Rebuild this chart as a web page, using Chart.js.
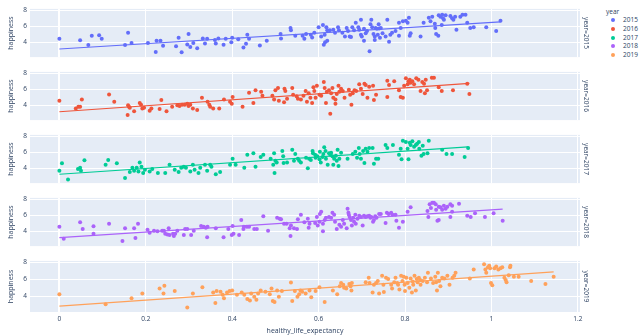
<!DOCTYPE html>
<html>
<head>
<meta charset="utf-8">
<script src="https://cdn.jsdelivr.net/npm/chart.js@4.4.1/dist/chart.umd.min.js"></script>
<style>
  html, body { margin: 0; padding: 0; background: #fff; }
  body { width: 640px; height: 335px; position: relative; overflow: hidden; font-family: "Open Sans", verdana, arial, sans-serif; color: #2a3f5f; }
  canvas { position: absolute; left: 0; }
  .lg { position: absolute; font-size: 6.5px; line-height: 8px; white-space: nowrap; }
  .dot { position: absolute; width: 4px; height: 4px; border-radius: 50%; }
</style>
</head>
<body>
<div id="legend"></div>
<script>
  // facets / legend
  const years = ['2015', '2016', '2017', '2018', '2019']
  const colors = ['#636efa', '#EF553B', '#00cc96', '#ab63fa', '#FFA15A']
  const xTicks = [0, 0.2, 0.4, 0.6, 0.8, 1, 1.2]
  const yTicks = [4, 6, 8]

  // [healthy_life_expectancy, happiness]
  const points2015 = [
    [0, 4.45], [0.048, 4.26], [0.067, 3.68], [0.075, 4.83], [0.092, 4.9], [0.098, 4.45], [0.152, 3.68], [0.159, 5.2],
    [0.167, 3.92], [0.205, 3.92], [0.223, 2.79], [0.225, 4.19], [0.234, 4.19], [0.24, 3.58], [0.27, 3.51], [0.276, 4.57],
    [0.283, 2.77], [0.296, 3.74], [0.299, 5.06], [0.303, 3.43], [0.31, 3.92], [0.319, 3.25], [0.332, 4.49], [0.337, 3.85],
    [0.342, 4.45], [0.36, 4.3], [0.362, 3.85], [0.368, 4.49], [0.38, 3.7], [0.385, 4.45], [0.398, 4.0], [0.4, 4.57],
    [0.414, 4.38], [0.426, 3.36], [0.432, 3.81], [0.435, 4.94], [0.439, 4.45], [0.464, 3.62], [0.48, 4.19], [0.512, 5.06],
    [0.513, 4.49], [0.535, 5.81], [0.536, 5.51], [0.546, 4.83],
    [0.563, 4.83], [0.571, 5.06], [0.567, 4.45], [0.582, 4.94], [0.6, 5.89], [0.606, 4.75], [0.61, 6.19], [0.614, 4.94],
    [0.618, 5.89], [0.62, 5.51], [0.615, 4.0], [0.62, 4.19], [0.626, 5.51], [0.634, 5.58], [0.638, 5.2], [0.645, 5.89],
    [0.647, 5.51], [0.655, 5.2], [0.661, 4.75], [0.665, 5.81], [0.668, 5.43], [0.672, 4.75], [0.675, 4.68], [0.678, 5.89],
    [0.682, 5.51], [0.686, 6.45], [0.692, 5.89], [0.694, 5.58], [0.698, 6.83], [0.698, 4.94], [0.7, 4.75], [0.705, 5.7],
    [0.709, 5.13], [0.712, 5.43], [0.72, 6.26], [0.722, 6.83], [0.724, 5.89], [0.727, 5.06], [0.73, 4.75], [0.732, 5.81],
    [0.735, 5.7], [0.737, 4.94], [0.739, 6.26], [0.742, 4.57], [0.74, 5.74], [0.744, 5.81], [0.748, 5.13], [0.718, 2.87],
    [0.705, 4.19], [0.73, 4.3], [0.755, 4.75], [0.759, 6.83], [0.763, 4.08], [0.766, 4.94], [0.77, 5.2], [0.778, 5.43],
    [0.786, 6.45], [0.786, 4.83], [0.79, 5.81], [0.795, 6.64], [0.802, 6.72], [0.806, 6.45], [0.809, 7.09], [0.811, 4.83],
    [0.813, 5.13], [0.836, 4.75], [0.843, 6.45], [0.855, 7.09], [0.859, 6.64], [0.863, 7.21], [0.869, 6.34], [0.87, 5.81],
    [0.872, 5.06], [0.877, 4.83], [0.878, 7.4], [0.882, 7.21], [0.886, 7.47], [0.888, 7.02], [0.89, 6.83], [0.894, 7.4],
    [0.885, 6.19], [0.905, 7.32], [0.909, 7.02], [0.912, 6.83], [0.916, 7.21], [0.919, 5.58], [0.928, 7.21], [0.933, 7.47],
    [0.94, 7.47], [0.944, 6.45], [0.951, 5.81], [0.959, 5.89], [0.988, 5.89], [1.011, 5.43], [1.021, 6.72], [0.612, 3.7],
    [0.59, 5.2], [0.585, 4.6]
  ]
  const points2016 = [
    [0, 4.57], [0.038, 3.62], [0.044, 3.81], [0.048, 3.81], [0.052, 4.75], [0.115, 5.36], [0.127, 4.45], [0.158, 2.79],
    [0.159, 4.0], [0.161, 3.81], [0.163, 3.7], [0.173, 3.25], [0.186, 4.3], [0.189, 4.08], [0.192, 3.62], [0.196, 3.7],
    [0.209, 3.32], [0.213, 3.62], [0.232, 3.55], [0.236, 4.68], [0.248, 3.25], [0.261, 3.81], [0.273, 4.0], [0.278, 3.92],
    [0.284, 4.08], [0.29, 4.08], [0.296, 4.19], [0.299, 3.92], [0.303, 4.08], [0.309, 3.62], [0.319, 3.43], [0.33, 4.94],
    [0.343, 4.45], [0.347, 4.08], [0.349, 3.81], [0.356, 3.62], [0.37, 3.62], [0.381, 4.75], [0.395, 4.45], [0.399, 4.19],
    [0.401, 5.06], [0.424, 3.81], [0.439, 5.58], [0.449, 4.3], [0.454, 5.89], [0.467, 5.7], [0.47, 5.2], [0.493, 5.2],
    [0.497, 4.75], [0.5, 5.89], [0.506, 6.19], [0.508, 4.57], [0.521, 6.08], [0.523, 5.81], [0.52, 4.38], [0.527, 4.83],
    [0.539, 6.19], [0.541, 5.32], [0.549, 5.13], [0.552, 4.83],
    [0.559, 4.75], [0.565, 5.2], [0.57, 5.81], [0.573, 4.45], [0.577, 5.51], [0.581, 4.94], [0.585, 4.3], [0.588, 6.26],
    [0.59, 5.81], [0.593, 4.94], [0.596, 6.45], [0.602, 5.32], [0.606, 5.2], [0.612, 6.94], [0.614, 6.19], [0.617, 4.3],
    [0.619, 5.7], [0.624, 5.89], [0.627, 2.94], [0.629, 5.51], [0.632, 6.19], [0.634, 4.94], [0.639, 4.19], [0.639, 4.75],
    [0.642, 5.43], [0.646, 6.45], [0.648, 5.7], [0.652, 6.08], [0.656, 5.81], [0.66, 4.94], [0.67, 5.96], [0.673, 5.32],
    [0.676, 4.08], [0.679, 5.51], [0.683, 5.89], [0.687, 5.81], [0.694, 6.64], [0.698, 6.08], [0.702, 5.43], [0.706, 6.72],
    [0.709, 6.57], [0.713, 4.94], [0.717, 6.34], [0.726, 6.45], [0.728, 4.68], [0.733, 5.32], [0.759, 7.09], [0.759, 5.06],
    [0.763, 6.57], [0.775, 7.02], [0.786, 5.89], [0.79, 5.06], [0.795, 4.94], [0.798, 6.45], [0.802, 7.4], [0.806, 6.64],
    [0.808, 7.02], [0.811, 7.21], [0.813, 6.83], [0.817, 7.02], [0.821, 6.64], [0.826, 7.4], [0.831, 7.21], [0.836, 5.81],
    [0.84, 6.94], [0.844, 6.72], [0.846, 5.51], [0.848, 7.21], [0.851, 5.89], [0.862, 7.47], [0.867, 7.47], [0.878, 6.26],
    [0.885, 5.81], [0.911, 5.89], [0.944, 6.72], [0.949, 5.43]
  ]
  const points2017 = [
    [0, 3.7], [0.006, 4.64], [0.02, 2.6], [0.043, 3.92], [0.048, 4.08], [0.05, 3.7], [0.058, 5.02], [0.107, 4.45],
    [0.113, 5.06], [0.133, 4.64], [0.152, 2.79], [0.163, 3.55], [0.169, 4.08], [0.173, 3.7], [0.179, 4.08], [0.183, 3.62],
    [0.186, 4.75], [0.19, 4.19], [0.194, 3.43], [0.198, 3.81], [0.209, 3.62], [0.215, 3.92], [0.228, 3.43], [0.245, 3.43],
    [0.255, 4.45], [0.267, 3.81], [0.276, 3.55], [0.282, 4.08], [0.288, 4.19], [0.293, 4.08], [0.303, 3.62], [0.309, 4.45],
    [0.313, 3.81], [0.322, 3.43], [0.326, 4.08], [0.337, 4.45], [0.342, 3.7], [0.349, 4.45], [0.352, 4.19], [0.362, 3.25],
    [0.372, 3.55], [0.395, 4.45], [0.401, 5.2], [0.408, 4.45], [0.428, 4.08], [0.435, 5.7], [0.449, 5.89], [0.454, 4.19],
    [0.466, 5.43], [0.472, 5.7], [0.489, 5.2], [0.495, 4.45], [0.497, 5.89], [0.498, 3.43], [0.5, 4.94], [0.503, 4.75],
    [0.516, 6.19], [0.518, 5.51], [0.519, 4.68], [0.527, 4.75], [0.539, 6.34], [0.543, 4.94], [0.546, 5.81], [0.552, 5.2],
    [0.555, 4.94], [0.559, 4.75], [0.571, 5.32], [0.575, 4.0], [0.578, 5.2], [0.582, 5.06], [0.586, 6.19], [0.587, 5.89],
    [0.592, 5.7], [0.593, 5.32], [0.597, 5.51], [0.602, 5.13], [0.603, 6.08], [0.605, 4.75], [0.609, 5.43], [0.611, 5.81],
    [0.613, 6.64], [0.616, 6.19], [0.617, 5.2], [0.621, 4.45], [0.624, 5.89], [0.627, 5.7], [0.629, 5.96], [0.632, 5.51],
    [0.634, 4.45], [0.636, 5.2], [0.64, 5.58], [0.642, 4.94], [0.644, 6.34], [0.646, 4.3], [0.648, 5.2], [0.652, 5.96],
    [0.667, 5.2], [0.679, 5.81], [0.685, 6.08], [0.689, 5.32], [0.693, 6.57], [0.695, 5.81], [0.698, 5.2], [0.703, 6.19],
    [0.706, 4.68], [0.709, 6.45], [0.713, 6.08], [0.717, 6.57], [0.725, 6.57], [0.728, 4.57], [0.733, 5.2], [0.738, 5.2],
    [0.755, 6.94], [0.759, 6.57], [0.772, 6.94], [0.786, 5.7], [0.79, 6.45], [0.792, 5.13], [0.795, 7.47], [0.802, 7.32],
    [0.806, 6.45], [0.808, 5.13], [0.811, 7.21], [0.813, 6.94], [0.817, 7.4], [0.821, 6.72], [0.825, 6.94], [0.828, 7.09],
    [0.832, 7.32], [0.833, 6.45], [0.838, 5.58], [0.841, 6.83], [0.843, 5.81], [0.852, 5.89], [0.855, 7.47], [0.886, 6.34],
    [0.896, 5.81], [0.909, 5.81], [0.938, 5.43], [0.946, 6.57]
  ]
  const points2018 = [
    [0, 4.57], [0.01, 3.06], [0.048, 5.13], [0.054, 4.3], [0.079, 4.64], [0.079, 3.7], [0.115, 4.94], [0.146, 2.79],
    [0.152, 4.38], [0.173, 4.38], [0.176, 3.17], [0.182, 4.94], [0.204, 4.19], [0.209, 3.81], [0.219, 4.08], [0.227, 4.0],
    [0.238, 4.08], [0.242, 4.08], [0.245, 3.7], [0.25, 3.62], [0.253, 4.38], [0.255, 3.55], [0.263, 3.7], [0.265, 3.43],
    [0.268, 3.7], [0.273, 4.08], [0.288, 3.55], [0.291, 4.3], [0.296, 4.3], [0.305, 3.55], [0.311, 4.08], [0.328, 4.68],
    [0.334, 4.57], [0.339, 4.45], [0.342, 3.25], [0.343, 4.57], [0.362, 4.38], [0.38, 3.25], [0.391, 4.3], [0.399, 3.55],
    [0.401, 4.68], [0.403, 3.7], [0.416, 3.55], [0.421, 5.43], [0.426, 4.3], [0.427, 4.57], [0.434, 4.57], [0.439, 4.57],
    [0.451, 4.3], [0.457, 4.3], [0.472, 5.89], [0.483, 4.08], [0.504, 5.7], [0.51, 5.58], [0.513, 5.51], [0.52, 4.94],
    [0.526, 4.94], [0.533, 4.38], [0.535, 3.43], [0.536, 4.75], [0.543, 4.38], [0.55, 4.3], [0.552, 5.51],
    [0.559, 6.08], [0.567, 5.13], [0.575, 5.58], [0.577, 4.45], [0.579, 4.94], [0.592, 5.06], [0.596, 5.81], [0.598, 4.75],
    [0.602, 5.2], [0.603, 6.19], [0.606, 6.45], [0.61, 4.0], [0.61, 4.94], [0.614, 5.43], [0.617, 5.7], [0.624, 5.81],
    [0.629, 5.7], [0.632, 6.34], [0.636, 6.08], [0.638, 5.2], [0.642, 4.3], [0.648, 4.83], [0.652, 4.57], [0.656, 5.43],
    [0.659, 4.94], [0.665, 4.38], [0.667, 6.83], [0.669, 6.34], [0.67, 6.08], [0.672, 5.81], [0.675, 5.43], [0.677, 4.75],
    [0.68, 5.7], [0.682, 5.2], [0.685, 6.08], [0.686, 4.94], [0.69, 5.58], [0.694, 5.96], [0.698, 5.81], [0.702, 4.75],
    [0.705, 5.96], [0.709, 5.81], [0.713, 5.89], [0.717, 5.96], [0.72, 5.7], [0.722, 5.81], [0.726, 5.2], [0.728, 5.43],
    [0.731, 5.89], [0.734, 5.7], [0.74, 6.19], [0.744, 6.19], [0.755, 5.06], [0.758, 6.34], [0.762, 6.19], [0.768, 6.34],
    [0.771, 6.08], [0.778, 6.08], [0.78, 5.32], [0.786, 4.45], [0.795, 5.2], [0.806, 6.45], [0.813, 7.02], [0.852, 6.57],
    [0.854, 5.81], [0.857, 7.4], [0.86, 6.94], [0.863, 7.58], [0.867, 7.58], [0.871, 7.4], [0.872, 6.72], [0.875, 5.32],
    [0.878, 7.09], [0.878, 5.43], [0.882, 7.02], [0.886, 6.72], [0.89, 7.21], [0.894, 6.83], [0.898, 7.09], [0.905, 7.4],
    [0.905, 5.81], [0.909, 7.21], [0.909, 6.45], [0.925, 7.47], [0.944, 5.96], [0.952, 5.81], [0.962, 6.26], [0.985, 5.81],
    [1.005, 6.26], [1.026, 5.32]
  ]
  const points2019 = [
    [0, 4.26], [0.107, 3.07], [0.167, 3.78], [0.192, 4.34], [0.232, 4.93], [0.243, 5.27], [0.241, 4.34], [0.267, 4.64],
    [0.296, 2.69], [0.309, 4.34], [0.331, 5.08], [0.356, 4.45], [0.361, 3.21], [0.364, 4.64], [0.373, 4.56], [0.378, 4.19],
    [0.381, 3.78], [0.388, 4.45], [0.394, 4.64], [0.4, 4.71], [0.411, 4.19], [0.422, 4.45], [0.428, 4.19], [0.435, 3.7],
    [0.441, 3.51], [0.444, 4.34], [0.451, 3.96], [0.456, 3.59], [0.46, 4.34], [0.466, 4.71], [0.477, 4.56], [0.487, 4.26],
    [0.491, 4.93], [0.494, 3.44], [0.498, 3.33], [0.504, 4.71], [0.508, 3.96], [0.515, 4.64], [0.536, 5.64], [0.539, 3.44],
    [0.545, 4.64], [0.551, 3.96], [0.555, 4.26], [0.558, 4.71], [0.562, 4.56], [0.57, 4.34], [0.579, 4.71], [0.583, 3.89],
    [0.593, 4.64], [0.602, 5.08], [0.614, 3.33], [0.633, 4.71], [0.643, 4.26], [0.649, 5.2], [0.652, 5.57], [0.657, 5.38],
    [0.659, 5.01], [0.664, 4.93], [0.671, 5.46], [0.674, 5.2], [0.676, 4.71], [0.677, 5.57], [0.709, 5.68], [0.716, 6.21],
    [0.718, 5.57], [0.725, 4.45], [0.728, 5.38], [0.733, 5.57], [0.737, 5.83], [0.74, 4.34], [0.747, 6.43], [0.75, 5.38],
    [0.751, 4.52], [0.756, 6.21], [0.761, 6.06], [0.768, 5.38], [0.77, 4.93], [0.775, 5.68], [0.778, 6.21], [0.782, 5.57],
    [0.784, 5.38], [0.787, 4.82], [0.791, 6.43], [0.794, 5.83], [0.797, 6.32], [0.799, 5.38], [0.8, 4.64], [0.803, 6.21],
    [0.806, 5.57], [0.81, 5.01], [0.813, 6.13], [0.816, 4.45], [0.818, 5.76], [0.819, 5.38], [0.822, 6.43], [0.825, 4.71],
    [0.827, 6.06], [0.829, 5.68], [0.832, 6.21], [0.835, 5.94], [0.836, 5.38], [0.841, 5.83], [0.846, 6.21], [0.851, 5.68],
    [0.853, 6.8], [0.86, 6.13], [0.865, 5.57], [0.87, 6.32], [0.872, 5.68], [0.874, 4.71], [0.876, 6.8], [0.879, 5.83],
    [0.882, 5.2], [0.886, 6.21], [0.891, 6.13], [0.898, 6.43], [0.903, 5.38], [0.91, 6.21], [0.914, 6.43], [0.917, 6.8],
    [0.95, 6.13], [0.959, 7.18], [0.983, 7.81], [0.986, 7.18], [0.988, 6.8], [0.992, 7.44], [0.995, 7.63], [0.997, 7.33],
    [0.999, 5.57], [1.002, 5.31], [1.007, 7.33], [1.011, 7.55], [1.016, 7.18], [1.021, 7.33], [1.025, 7.44], [1.03, 6.21],
    [1.033, 5.94], [1.035, 5.68], [1.04, 6.5], [1.043, 7.44], [1.044, 7.63], [1.052, 6.32], [1.063, 6.32], [1.092, 5.83],
    [1.125, 5.46], [1.144, 6.32]
  ]
  const pointsByYear = [points2015, points2016, points2017, points2018, points2019]

  const FONT = '"Open Sans", verdana, arial, sans-serif'
  const TXT = '#2a3f5f'
  const panelTops = [6, 69, 132, 195, 258]

  // ordinary least squares, like plotly's trendline='ols'
  function olsLine (pts) {
    const n = pts.length
    let sx = 0, sy = 0
    pts.forEach(p => { sx += p[0]; sy += p[1] })
    const mx = sx / n, my = sy / n
    let sxy = 0, sxx = 0
    pts.forEach(p => { sxy += (p[0] - mx) * (p[1] - my); sxx += (p[0] - mx) ** 2 })
    const b = sxy / sxx, a = my - b * mx
    const xs = pts.map(p => p[0])
    const x0 = Math.min(...xs), x1 = Math.max(...xs)
    return [{ x: x0, y: a + b * x0 }, { x: x1, y: a + b * x1 }]
  }

  const plotBg = {
    id: 'plotBg',
    beforeDraw (chart) {
      const { ctx, chartArea: a } = chart
      ctx.save()
      ctx.fillStyle = '#E5ECF6'
      ctx.fillRect(a.left, a.top, a.right - a.left, a.bottom - a.top)
      ctx.restore()
    }
  }

  const facetLabel = {
    id: 'facetLabel',
    afterDraw (chart, args, opts) {
      const { ctx, chartArea: a } = chart
      ctx.save()
      ctx.translate(a.right + 6, (a.top + a.bottom) / 2)
      ctx.rotate(Math.PI / 2)
      ctx.font = '6.5px ' + FONT
      ctx.fillStyle = TXT
      ctx.textAlign = 'center'
      ctx.textBaseline = 'middle'
      ctx.fillText(opts.text, 0, 0)
      ctx.restore()
    }
  }

  years.forEach((yr, i) => {
    const last = i === years.length - 1
    const top = panelTops[i] - 4
    const cv = document.createElement('canvas')
    cv.width = 640
    cv.height = last ? 335 - top : 62
    cv.style.top = top + 'px'
    document.body.appendChild(cv)

    const pts = pointsByYear[i]
    new Chart(cv, {
      type: 'scatter',
      data: {
        datasets: [{
          data: olsLine(pts),
          showLine: true,
          borderColor: colors[i],
          borderWidth: 1.2,
          pointRadius: 0
        }, {
          data: pts.map(p => ({ x: p[0], y: p[1] })),
          pointRadius: 2,
          pointBorderWidth: 0,
          pointBackgroundColor: colors[i]
        }]
      },
      options: {
        responsive: false,
        animation: false,
        devicePixelRatio: 1,
        events: [],
        layout: { padding: { top: 4, bottom: last ? 0 : 4, left: 0, right: 60 } },
        scales: {
          x: {
            type: 'linear',
            min: -0.068,
            max: 1.205,
            afterBuildTicks: s => { s.ticks = xTicks.map(v => ({ value: v })) },
            afterFit: s => { s.height = last ? 23 : 0 },
            border: { display: false },
            grid: {
              color: '#ffffff',
              lineWidth: c => (c.tick && c.tick.value === 0 ? 2 : 1),
              drawTicks: false
            },
            ticks: {
              display: last,
              padding: 3,
              color: TXT,
              font: { family: FONT, size: 6.5 },
              maxRotation: 0,
              callback: v => String(v)
            },
            title: {
              display: last,
              text: 'healthy_life_expectancy',
              color: TXT,
              font: { family: FONT, size: 7 },
              padding: 0
            }
          },
          y: {
            min: 2.15,
            max: 8.2,
            afterBuildTicks: s => { s.ticks = yTicks.map(v => ({ value: v })) },
            afterFit: s => { s.width = 30 },
            border: { display: false },
            grid: { color: '#ffffff', lineWidth: 1, drawTicks: false },
            ticks: {
              padding: 3,
              color: TXT,
              font: { family: FONT, size: 6.5 }
            },
            title: {
              display: true,
              text: 'happiness',
              color: TXT,
              font: { family: FONT, size: 7 },
              padding: { top: 7, bottom: 0 }
            }
          }
        },
        plugins: {
          legend: { display: false },
          tooltip: { enabled: false },
          facetLabel: { text: 'year=' + yr }
        }
      },
      plugins: [plotBg, facetLabel]
    })
  })

  // legend
  const lg = document.getElementById('legend')
  const ttl = document.createElement('div')
  ttl.className = 'lg'
  ttl.style.left = '606px'
  ttl.style.top = '8px'
  ttl.textContent = 'year'
  lg.appendChild(ttl)
  years.forEach((yr, i) => {
    const cy = 20 + i * 8.8
    const d = document.createElement('div')
    d.className = 'dot'
    d.style.left = '611px'
    d.style.top = (cy - 2) + 'px'
    d.style.background = colors[i]
    lg.appendChild(d)
    const t = document.createElement('div')
    t.className = 'lg'
    t.style.left = '623px'
    t.style.top = (cy - 4) + 'px'
    t.textContent = yr
    lg.appendChild(t)
  })
</script>
</body>
</html>
